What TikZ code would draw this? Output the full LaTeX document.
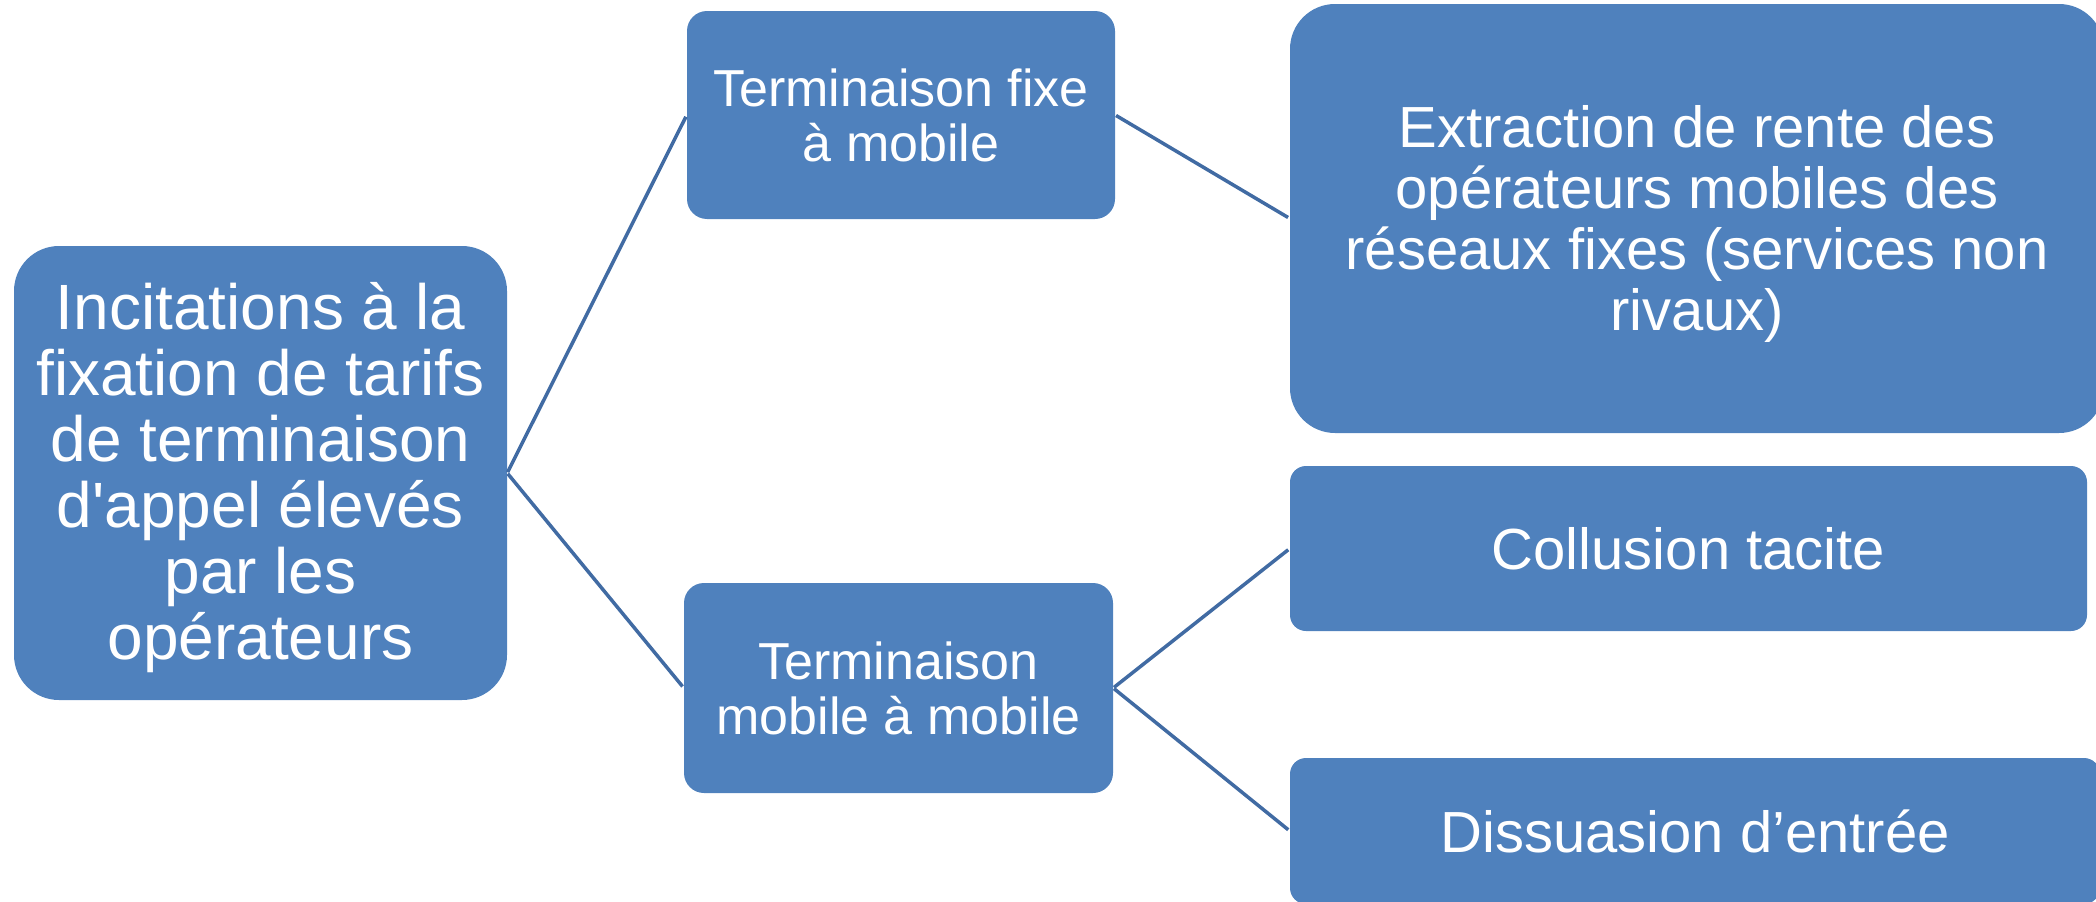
\documentclass[tikz,border=0pt]{standalone}
\usepackage{fontspec}
\setmainfont{Liberation Sans}[Ligatures=TeXOff]
\definecolor{boxblue}{HTML}{4F81BD}
\definecolor{linkblue}{HTML}{416BA3}
\tikzset{
  bluebox/.style={rectangle, fill=boxblue, draw=none, text=white, align=center, inner sep=0pt},
  boxtext/.style={text=white, align=center, inner sep=0pt},
  link/.style={draw=linkblue, line width=3.5pt, shorten >=2pt, shorten <=1pt},
  bigfont/.style={font=\fontsize{64}{66}\selectfont},
  midfont/.style={font=\fontsize{52}{55}\selectfont},
  rightfont/.style={font=\fontsize{58}{61}\selectfont}
}
\begin{document}
\begin{tikzpicture}[x=1pt,y=-1pt]
\useasboundingbox (0,0) rectangle (2096,902);
\clip (0,0) rectangle (2096,902);
\node[bluebox, rounded corners=45pt, minimum width=493pt, minimum height=454pt,
  label={[boxtext, bigfont, yshift=-5pt]center:{Incitations à la\\fixation de tarifs\\de terminaison\\d'appel élevés\\par les\\opérateurs}}] (root) at (260.5,473) {};
\node[bluebox, midfont, rounded corners=20pt, minimum width=428pt, minimum height=208pt] (fm) at (901,115)
  {Terminaison fixe\\à mobile};
\node[bluebox, midfont, rounded corners=20pt, minimum width=429pt, minimum height=210pt] (mm) at (898.5,688)
  {Terminaison\\mobile à mobile};
\node[bluebox, rounded corners=45pt, minimum width=814pt, minimum height=429pt,
  label={[boxtext, rightfont, yshift=-5pt]center:{Extraction de rente des\\opérateurs mobiles des\\réseaux fixes (services non\\rivaux)}}] (ext) at (1697,218.5) {};
\node[bluebox, rightfont, rounded corners=16pt, minimum width=797pt, minimum height=165pt] (col) at (1688.5,548.5)
  {Collusion tacite};
\node[bluebox, rightfont, rounded corners=16pt, minimum width=810pt, minimum height=146pt] (dis) at (1695,831)
  {Dissuasion d’entrée};
\draw[link] (root.east) -- (fm.west);
\draw[link] (root.east) -- (mm.west);
\draw[link] (fm.east) -- (ext.west);
\draw[link] (mm.east) -- (col.west);
\draw[link] (mm.east) -- (dis.west);
\end{tikzpicture}
\end{document}
